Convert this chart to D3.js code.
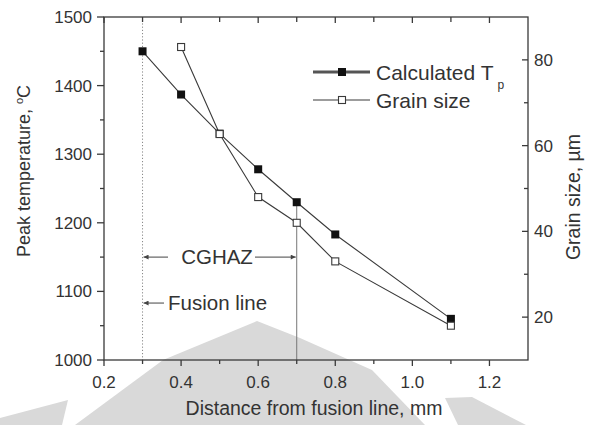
<!DOCTYPE html>
<html>
<head>
<meta charset="utf-8">
<script src="https://cdn.jsdelivr.net/npm/d3@7"></script>
<style>
  html, body { margin: 0; padding: 0; background: #fff; }
  svg { display: block; }
  text { font-family: "Liberation Sans", Arial, sans-serif; fill: #333; }
</style>
</head>
<body>
<svg id="chart" width="591" height="425"></svg>
<script>
// ---- data ----
const tpDistance = [0.3, 0.4, 0.5, 0.6, 0.7, 0.8, 1.1];
const tpValues   = [1450, 1387, 1330, 1278, 1230, 1183, 1060];
const grainDistance = [0.4, 0.5, 0.6, 0.7, 0.8, 1.1];
const grainValues   = [83, 62.7, 48, 42, 33, 18];
const xTicks = [0.2, 0.4, 0.6, 0.8, 1.0, 1.2];
const xMinorTicks = [0.3, 0.5, 0.7, 0.9, 1.1];
const leftTicks = [1000, 1100, 1200, 1300, 1400, 1500];
const leftMinorTicks = [1050, 1150, 1250, 1350, 1450];
const rightTicks = [20, 40, 60, 80];
const rightMinorTicks = [30, 50, 70];
const legendLabels = ["Calculated T", "Grain size"];
const fusionX = 0.3, cghazX = 0.7;

// ---- layout ----
const svg = d3.select("#chart");
const L = 104, R = 528, T = 17, B = 360;
const x = d3.scaleLinear().domain([0.2, 1.3]).range([L, R]);
const yL = d3.scaleLinear().domain([1000, 1500]).range([B, T]);
const yR = d3.scaleLinear().domain([10, 90]).range([B, T]);
const ink = "#3a3a3a";

// decorative watermark (background)
const wm = svg.append("g").attr("fill", "#d9d9d9");
wm.append("path").attr("d", "M75,425 L163,360 L257,321 L300,338 L372,370 L425,425 Z");
wm.append("path").attr("d", "M0,418 L68,400 L62,425 L0,425 Z");
wm.append("path").attr("d", "M445,398 L472,397 L526,425 L458,425 Z");

// annotation lines
svg.append("line")
  .attr("x1", x(fusionX)).attr("x2", x(fusionX))
  .attr("y1", T).attr("y2", B)
  .attr("stroke", "#888").attr("stroke-width", 1).attr("stroke-dasharray", "1.2,2");
svg.append("line")
  .attr("x1", x(cghazX)).attr("x2", x(cghazX))
  .attr("y1", yL(tpValues[tpDistance.indexOf(cghazX)])).attr("y2", B)
  .attr("stroke", "#777").attr("stroke-width", 1);

// axes
const axG = svg.append("g").attr("stroke", ink).attr("stroke-width", 1.3);
axG.append("rect").attr("x", L).attr("y", T).attr("width", R - L).attr("height", B - T)
  .attr("fill", "none");

leftTicks.forEach(v => axG.append("line").attr("x1", L - 7).attr("x2", L).attr("y1", yL(v)).attr("y2", yL(v)));
leftMinorTicks.forEach(v => axG.append("line").attr("x1", L - 4).attr("x2", L).attr("y1", yL(v)).attr("y2", yL(v)));
rightTicks.forEach(v => axG.append("line").attr("x1", R - 6).attr("x2", R).attr("y1", yR(v)).attr("y2", yR(v)));
rightMinorTicks.forEach(v => axG.append("line").attr("x1", R - 4).attr("x2", R).attr("y1", yR(v)).attr("y2", yR(v)));
xTicks.forEach(v => axG.append("line").attr("x1", x(v)).attr("x2", x(v)).attr("y1", B).attr("y2", B + 6));
xMinorTicks.forEach(v => axG.append("line").attr("x1", x(v)).attr("x2", x(v)).attr("y1", B).attr("y2", B + 4));
xTicks.forEach(v => axG.append("line").attr("x1", x(v)).attr("x2", x(v)).attr("y1", T).attr("y2", T + 6));
xMinorTicks.forEach(v => axG.append("line").attr("x1", x(v)).attr("x2", x(v)).attr("y1", T).attr("y2", T + 5));

// tick labels
const tickFont = 17;
svg.append("g").selectAll("text").data(leftTicks).join("text")
  .attr("x", L - 12).attr("y", d => yL(d)).attr("dy", "0.35em")
  .attr("text-anchor", "end").attr("font-size", tickFont).text(d => d);
svg.append("g").selectAll("text").data(rightTicks).join("text")
  .attr("x", R + 6).attr("y", d => yR(d)).attr("dy", "0.35em")
  .attr("text-anchor", "start").attr("font-size", tickFont).text(d => d);
svg.append("g").selectAll("text").data(xTicks).join("text")
  .attr("x", d => x(d)).attr("y", 388)
  .attr("text-anchor", "middle").attr("font-size", tickFont).text(d => d3.format(".1f")(d));

// axis titles
svg.append("text").attr("x", 314).attr("y", 415).attr("text-anchor", "middle")
  .attr("font-size", 19.5).text("Distance from fusion line, mm");
const lt = svg.append("text").attr("transform", `translate(30,171) rotate(-90)`)
  .attr("text-anchor", "middle").attr("font-size", 18);
lt.append("tspan").text("Peak temperature, ");
lt.append("tspan").attr("font-size", 11).attr("dy", -7).text("o");
lt.append("tspan").attr("dy", 7).text("C");
svg.append("text").attr("transform", `translate(580,197) rotate(-90)`)
  .attr("text-anchor", "middle").attr("font-size", 19.5).text("Grain size, \u00b5m");

// series
const line = (xs, ys, yS) => d3.line().x((d, i) => x(xs[i])).y((d, i) => yS(ys[i]))(xs);
svg.append("path").attr("d", line(tpDistance, tpValues, yL))
  .attr("fill", "none").attr("stroke", ink).attr("stroke-width", 1.1);
svg.append("path").attr("d", line(grainDistance, grainValues, yR))
  .attr("fill", "none").attr("stroke", ink).attr("stroke-width", 1.1);
const ms = 8;
svg.append("g").selectAll("rect").data(tpDistance).join("rect")
  .attr("x", (d) => x(d) - ms / 2).attr("y", (d, i) => yL(tpValues[i]) - ms / 2)
  .attr("width", ms).attr("height", ms).attr("fill", "#111");
svg.append("g").selectAll("rect").data(grainDistance).join("rect")
  .attr("x", (d) => x(d) - ms / 2 + 0.5).attr("y", (d, i) => yR(grainValues[i]) - ms / 2 + 0.5)
  .attr("width", ms - 1).attr("height", ms - 1).attr("fill", "#fff").attr("stroke", ink).attr("stroke-width", 1.1);

// annotation arrows
const defs = svg.append("defs");
defs.append("marker").attr("id", "arr").attr("viewBox", "0 0 10 10").attr("refX", 10).attr("refY", 5)
  .attr("markerWidth", 7).attr("markerHeight", 5).attr("orient", "auto-start-reverse")
  .append("path").attr("d", "M0,0 L10,5 L0,10 Z").attr("fill", "#444");
const cgY = yL(1150), fuY = yL(1083);
svg.append("line").attr("x1", 168).attr("x2", x(fusionX) + 1).attr("y1", cgY).attr("y2", cgY)
  .attr("stroke", "#444").attr("stroke-width", 1).attr("marker-end", "url(#arr)");
svg.append("line").attr("x1", 255).attr("x2", x(cghazX) - 1).attr("y1", cgY).attr("y2", cgY)
  .attr("stroke", "#444").attr("stroke-width", 1).attr("marker-end", "url(#arr)");
svg.append("text").attr("x", 217).attr("y", cgY).attr("dy", "0.36em").attr("text-anchor", "middle")
  .attr("font-size", 20.5).text("CGHAZ");
svg.append("line").attr("x1", 164).attr("x2", x(fusionX) + 1).attr("y1", fuY).attr("y2", fuY)
  .attr("stroke", "#444").attr("stroke-width", 1).attr("marker-end", "url(#arr)");
svg.append("text").attr("x", 168).attr("y", fuY).attr("dy", "0.36em").attr("text-anchor", "start")
  .attr("font-size", 20.5).text("Fusion line");

// legend
const lg = svg.append("g");
const rows = [72, 100];
lg.append("line").attr("x1", 313).attr("x2", 370).attr("y1", rows[0]).attr("y2", rows[0])
  .attr("stroke", "#555").attr("stroke-width", 3);
lg.append("rect").attr("x", 342 - ms / 2).attr("y", rows[0] - ms / 2).attr("width", ms).attr("height", ms).attr("fill", "#111");
lg.append("line").attr("x1", 313).attr("x2", 370).attr("y1", rows[1]).attr("y2", rows[1])
  .attr("stroke", ink).attr("stroke-width", 1.1);
lg.append("rect").attr("x", 342 - ms / 2 + 0.5).attr("y", rows[1] - ms / 2 + 0.5).attr("width", ms - 1).attr("height", ms - 1)
  .attr("fill", "#fff").attr("stroke", ink).attr("stroke-width", 1.1);
const t1 = lg.append("text").attr("x", 376).attr("y", rows[0]).attr("dy", "0.36em").attr("font-size", 21);
t1.append("tspan").text(legendLabels[0]);
t1.append("tspan").attr("font-size", 12).attr("dx", 4).attr("dy", 9).text("p");
lg.append("text").attr("x", 376).attr("y", rows[1]).attr("dy", "0.36em").attr("font-size", 21).text(legendLabels[1]);
</script>
</body>
</html>
